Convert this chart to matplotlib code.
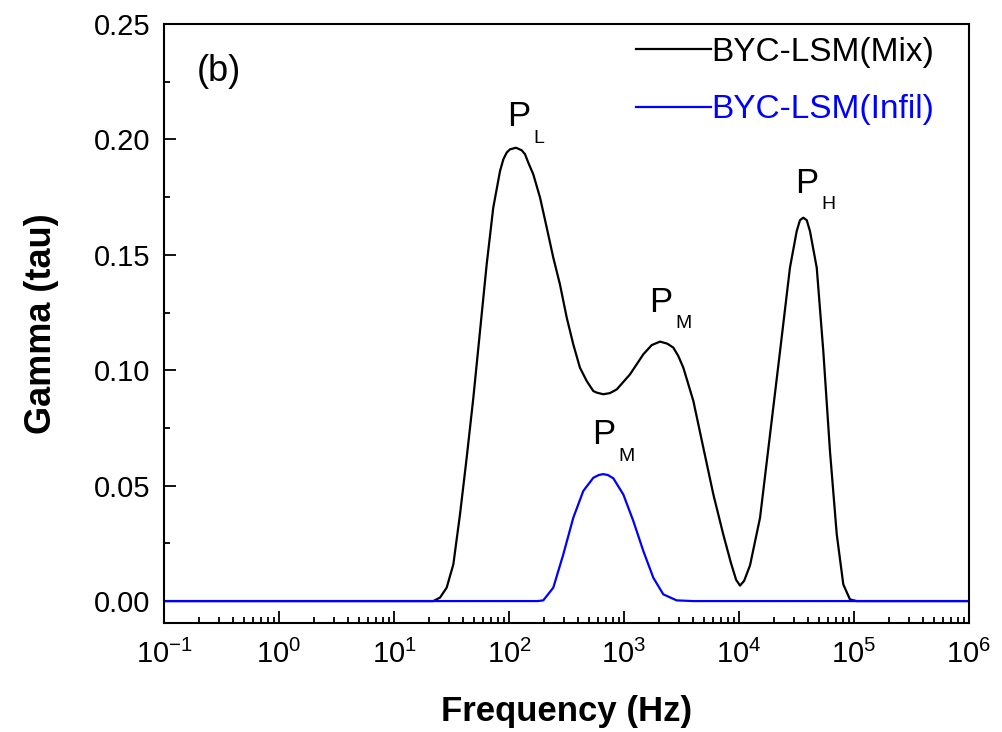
import matplotlib
matplotlib.use('Agg')
import matplotlib.pyplot as plt
import numpy as np

plt.rcParams['font.family'] = ['Liberation Sans', 'DejaVu Sans']
plt.rcParams['mathtext.fontset'] = 'custom'
plt.rcParams['mathtext.rm'] = 'Liberation Sans'
plt.rcParams['mathtext.default'] = 'regular'

# log10(frequency / Hz) and gamma
mix_logf = [-1.0, 1.0, 1.342, 1.40, 1.458, 1.516, 1.574, 1.632, 1.690, 1.748, 1.806, 1.863,
            1.922, 1.951, 1.980, 2.009, 2.061, 2.110, 2.139, 2.168, 2.211, 2.270, 2.328,
            2.385, 2.443, 2.502, 2.559, 2.617, 2.676, 2.733, 2.763, 2.820, 2.878, 2.937,
            3.052, 3.168, 3.241, 3.313, 3.377, 3.429, 3.472, 3.516, 3.603, 3.690, 3.777,
            3.863, 3.930, 3.975, 4.009, 4.045, 4.096, 4.183, 4.270, 4.357, 4.443, 4.502,
            4.530, 4.559, 4.589, 4.617, 4.676, 4.733, 4.791, 4.850, 4.907, 4.965, 5.023, 6.0]
mix_gamma = [0.0, 0.0, 0.0, 0.0015, 0.0058, 0.0159, 0.0376, 0.0621, 0.0881, 0.1170, 0.1459, 0.1704,
             0.1863, 0.1914, 0.1943, 0.1957, 0.1964, 0.1953, 0.1936, 0.1899, 0.1849, 0.1748, 0.1618,
             0.1488, 0.1372, 0.1228, 0.1112, 0.1011, 0.0953, 0.0910, 0.0903, 0.0896, 0.0901, 0.0917,
             0.0982, 0.1069, 0.1109, 0.1124, 0.1115, 0.1098, 0.1062, 0.1011, 0.0867, 0.0664, 0.0462,
             0.0289, 0.0165, 0.0092, 0.0067, 0.0088, 0.0155, 0.0361, 0.0722, 0.1083, 0.1444, 0.1603,
             0.1650, 0.1661, 0.1650, 0.1603, 0.1444, 0.1083, 0.0650, 0.0289, 0.0072, 0.0007, 0.0, 0.0]

infil_logf = [-1.0, 2.0, 2.25, 2.298, 2.385, 2.472, 2.559, 2.646, 2.733, 2.78, 2.820, 2.86,
              2.907, 2.994, 3.081, 3.168, 3.255, 3.342, 3.458, 3.6, 6.0]
infil_gamma = [0.0, 0.0, 0.0, 0.0003, 0.0058, 0.0202, 0.0361, 0.0477, 0.0534, 0.0546, 0.0550, 0.0546,
               0.0532, 0.0462, 0.0347, 0.0217, 0.0101, 0.0029, 0.0003, 0.0, 0.0]

# peak labels: (letter, subscript, log10 f, gamma)
peaks = [('P', 'L', 1.980, 0.2058),
         ('P', 'M', 3.220, 0.1254),
         ('P', 'M', 2.719, 0.0679),
         ('P', 'H', 4.487, 0.1769)]

fig = plt.figure(figsize=(10.02, 7.32), dpi=100)
ax = fig.add_axes([164 / 1002, 109 / 732, 805 / 1002, 599 / 732])

ax.plot(10 ** np.array(mix_logf), mix_gamma, color='black', lw=1.6,
        solid_joinstyle='round', label='BYC-LSM(Mix)')
ax.plot(10 ** np.array(infil_logf), infil_gamma, color='#0000ff', lw=1.6,
        solid_joinstyle='round', label='BYC-LSM(Infil)')

ax.set_xscale('log')
ax.set_xlim(1e-1, 1e6)
ax.set_ylim(-0.0095, 0.25)
ax.set_yticks(np.arange(0, 0.251, 0.05))
ax.set_yticks(np.arange(0.025, 0.25, 0.05), minor=True)
ax.yaxis.set_major_formatter(matplotlib.ticker.FormatStrFormatter('%.2f'))
ax.xaxis.set_major_locator(matplotlib.ticker.LogLocator(base=10, numticks=20))
ax.xaxis.set_minor_locator(matplotlib.ticker.LogLocator(base=10, subs=np.arange(2, 10), numticks=20))
ax.xaxis.set_minor_formatter(matplotlib.ticker.NullFormatter())

ax.tick_params(which='both', direction='in', top=False, right=False, width=1.3)
ax.tick_params(which='major', length=8.5, labelsize=21, pad=10)
ax.tick_params(which='minor', length=4)
ax.tick_params(axis='x', which='major', pad=12)
for s in ax.spines.values():
    s.set_linewidth(1.5)

ax.set_xlabel('Frequency (Hz)', fontsize=25, fontweight='bold', labelpad=19)
ax.set_ylabel('Gamma (tau)', fontsize=26, fontweight='bold', labelpad=25)

for p, sub, lf, g in peaks:
    ax.text(10 ** lf, g, p, fontsize=25, ha='left', va='baseline')
    ax.annotate(sub, (10 ** lf, g), xytext=(19, -12), textcoords='offset points',
                fontsize=14, ha='left', va='baseline')

ax.text(0.041, 0.905, '(b)', transform=ax.transAxes, fontsize=26, ha='left', va='baseline')

leg = ax.legend(loc='upper right', bbox_to_anchor=(934 / 1002, 1 - 37 / 732),
                bbox_transform=fig.transFigure, frameon=False, fontsize=24,
                handlelength=2.25, handletextpad=0.0, borderpad=0, borderaxespad=0,
                labelspacing=0.79)
for t, c in zip(leg.get_texts(), ['black', '#0000ff']):
    t.set_color(c)

fig.savefig('out.png', dpi=100)
